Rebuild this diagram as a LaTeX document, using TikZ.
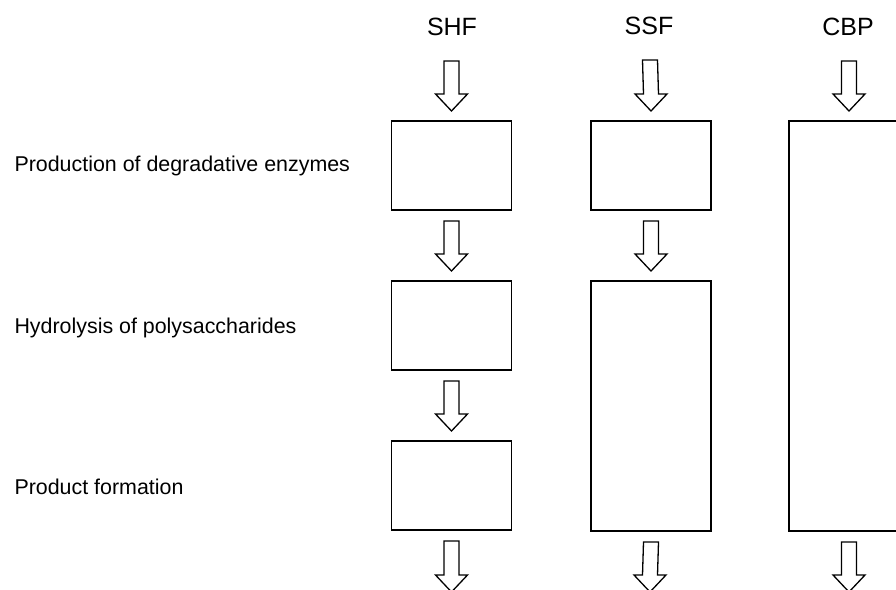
\documentclass[tikz,border=0pt]{standalone}
\usepackage{fontspec}
\setmainfont{Liberation Sans}
\usetikzlibrary{calc}

\tikzset{
  stage/.style={draw, line width=1.6pt, minimum width=120pt, inner sep=0pt, outer sep=0pt},
  hollowarrow/.style={line width=1.3pt, line join=miter, fill=white},
  route/.style={font=\fontsize{25}{29}\selectfont, anchor=base},
  steplabel/.style={font=\fontsize{21.4}{26}\selectfont, anchor=base west}
}

% hollow block arrow from box to box
\newcommand{\blockarrow}[2]{%
  \draw[hollowarrow]
    ($(#1)+(-\shaftw,\gapout)$) -- ($(#2)+(-\shaftw,-\gapin-\headl)$)
    -- ($(#2)+(-\headw,-\gapin-\headl)$) -- ($(#2)+(0,-\gapin)$)
    -- ($(#2)+(\headw,-\gapin-\headl)$) -- ($(#2)+(\shaftw,-\gapin-\headl)$)
    -- ($(#1)+(\shaftw,\gapout)$) -- cycle;}

\begin{document}
\begin{tikzpicture}[x=1pt, y=-1pt]

    % parameters
    \pgfmathsetmacro{\shaftw}{7.5}
    \pgfmathsetmacro{\headw}{16}
    \pgfmathsetmacro{\headl}{17}
    \pgfmathsetmacro{\gapout}{11}
    \pgfmathsetmacro{\gapin}{10}

    \pgfmathsetmacro{\colA}{451.5}
    \pgfmathsetmacro{\colB}{651}
    \pgfmathsetmacro{\colC}{849}

    \clip (0,0) rectangle (896,589);

    % titles
    \node[route] (shf) at (452,35) {SHF};
    \node[route] (ssf) at (649,34) {SSF};
    \node[route] (cbp) at (848,35.5) {CBP};

    % steps
    \node[steplabel] (enz) at (11,171.5) {Production of degradative enzymes};
    \node[steplabel] (hyd) at (11,333) {Hydrolysis of polysaccharides};
    \node[steplabel] (prod) at (11,494) {Product formation};

    % boxes
    \node[stage, minimum height=89pt] (shf1) at (\colA,165.5) {};
    \node[stage, minimum height=89pt] (shf2) at (\colA,325.5) {};
    \node[stage, minimum height=89pt] (shf3) at (\colA,485.5) {};
    \node[stage, minimum height=89pt] (ssf1) at (\colB,165.5) {};
    \node[stage, minimum height=250pt] (ssf2) at (\colB,406) {};
    \node[stage, minimum height=410pt] (cbp1) at (\colC,326) {};

    % in / out
    \coordinate (shf in) at (\colA,50);
    \coordinate (ssf in) at (\colB-1,49);
    \coordinate (cbp in) at (\colC,50);
    \coordinate (shf out) at (\colA,602);
    \coordinate (ssf out) at (\colB-1,602);
    \coordinate (cbp out) at (\colC,602);

    % arrows
    \blockarrow{shf in}{shf1.north}
    \blockarrow{shf1.south}{shf2.north}
    \blockarrow{shf2.south}{shf3.north}
    \blockarrow{shf3.south}{shf out}

    \blockarrow{ssf in}{ssf1.north}
    \blockarrow{ssf1.south}{ssf2.north}
    \blockarrow{ssf2.south}{ssf out}

    \blockarrow{cbp in}{cbp1.north}
    \blockarrow{cbp1.south}{cbp out}

\end{tikzpicture}
\end{document}
